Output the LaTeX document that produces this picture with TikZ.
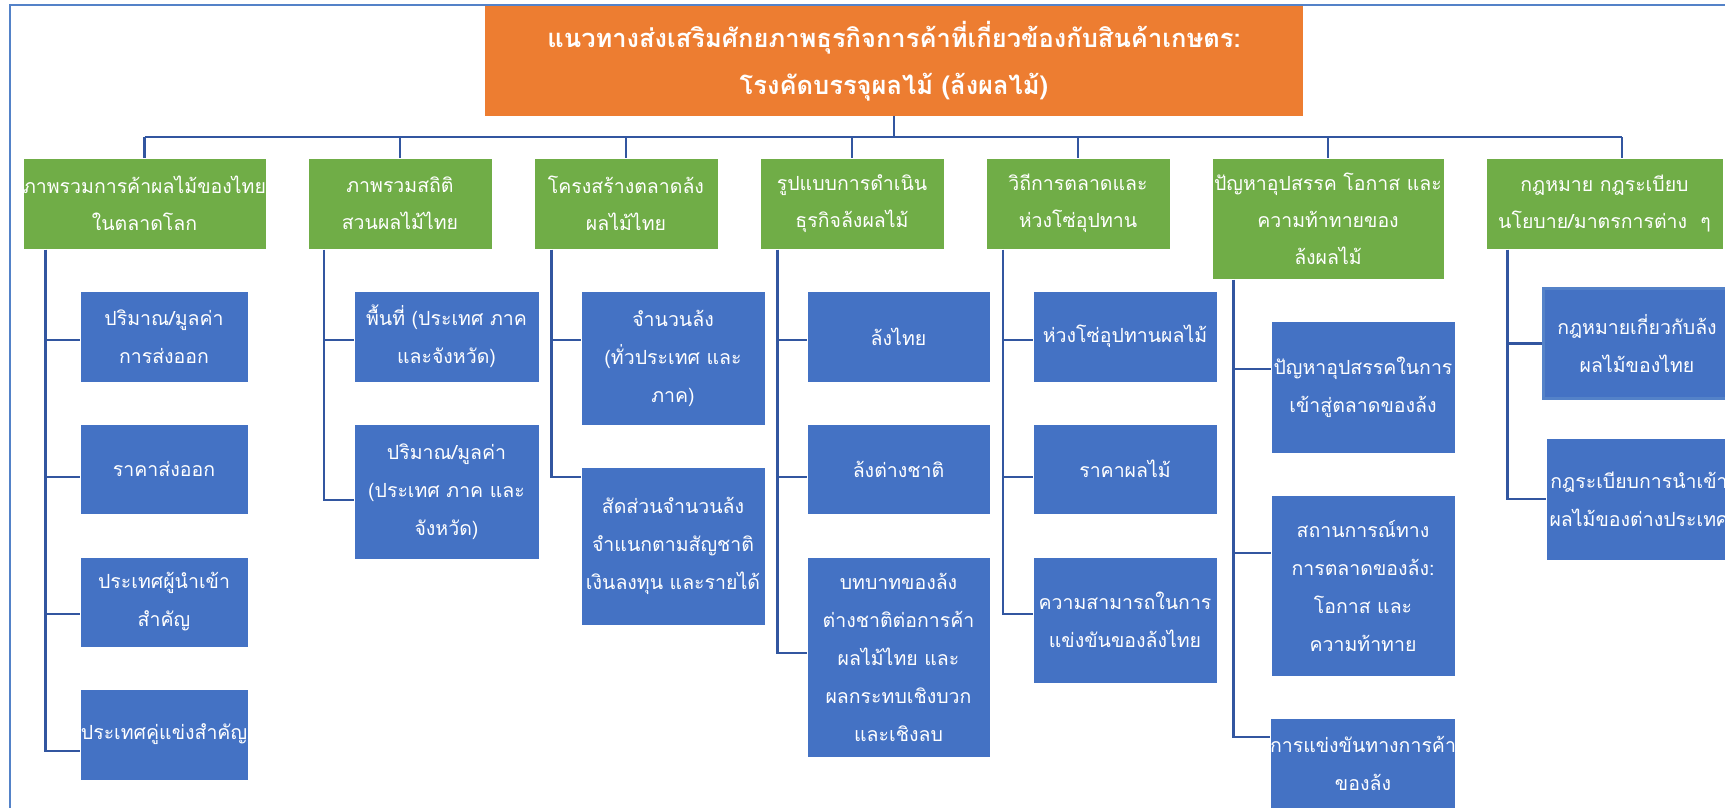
\documentclass[tikz,border=0pt]{standalone}
\usepackage{fontspec}
\newfontfamily\thaifont[Script=Thai]{Loma}
\definecolor{headorange}{RGB}{237,125,49}
\definecolor{catgreen}{RGB}{112,173,71}
\definecolor{itemblue}{RGB}{68,114,196}
\definecolor{linkblue}{RGB}{50,86,160}
\definecolor{frameblue}{RGB}{84,130,200}
\tikzset{
  headbox/.style={fill=headorange,text=white,align=center,inner sep=0pt,font=\thaifont\bfseries\fontsize{25.5}{47}\selectfont},
  catbox/.style={fill=catgreen,draw=white,line width=1pt,text=white,align=center,inner sep=0pt,font=\thaifont\fontsize{19.5}{37}\selectfont},
  itembox/.style={fill=itemblue,draw=white,line width=1pt,text=white,align=center,inner sep=0pt,font=\thaifont\fontsize{19.5}{38}\selectfont},
  link/.style={draw=linkblue,line width=2.7pt}
}
\begin{document}
\begin{tikzpicture}[x=1pt,y=-1pt]
\useasboundingbox (0,0) rectangle (1725,808);
\draw[frameblue,line width=2pt] (9.5,5) rectangle (1780,860);
\node[headbox,minimum width=818,minimum height=110] (head) at (894,61) {แนวทางส่งเสริมศักยภาพธุรกิจการค้าที่เกี่ยวข้องกับสินค้าเกษตร:\\โรงคัดบรรจุผลไม้ (ล้งผลไม้)};
\foreach \n/\x/\w/\y/\h/\txt in {g1/144.5/243/203.5/91/{ภาพรวมการค้าผลไม้ของไทย\\ในตลาดโลก},g2/400/184/203.5/91/{ภาพรวมสถิติ\\สวนผลไม้ไทย},
  g3/626/184/203.5/91/{โครงสร้างตลาดล้ง\\ผลไม้ไทย},g4/852/184/203.5/91/{รูปแบบการดำเนิน\\ธุรกิจล้งผลไม้},g5/1078/184/203.5/91/{วิถีการตลาดและ\\ห่วงโซ่อุปทาน},
  g6/1328/232/218.5/121/{ปัญหาอุปสรรค โอกาส และ\\ความท้าทายของ\\ล้งผลไม้},g7/1604.5/237/203.5/91/{กฎหมาย กฎระเบียบ\\นโยบาย/มาตรการต่าง~ ๆ}}{
  \node[catbox,minimum width=\w,minimum height=\h] (\n) at (\x,\y) {\txt};}
\coordinate (bus) at (894,137); \coordinate (g7top) at ([xshift=17.5pt]g7.north);
\draw[link] (head.south) -- (bus);
\draw[link] (g1.north |- bus) -- (g7top |- bus);
\foreach \d in {g1.north,g2.north,g3.north,g4.north,g5.north,g6.north,g7top} \draw[link] (\d |- bus) -- (\d);
\foreach \t/\g/\dx in {t1/g1/23,t2/g2/16.5,t3/g3/18,t4/g4/18,t5/g5/17.5,t6/g6/22,t7/g7/22} \coordinate (\t) at ([xshift=\dx]\g.south west);
\foreach \n/\t/\x/\w/\y/\h/\dy/\txt in {c1a/t1/164/168/336.5/91/-3.5/{ปริมาณ/มูลค่า\\การส่งออก},c1b/t1/164/168/469/90/-8/{ราคาส่งออก},
  c1c/t1/164/168/602/90/-12/{ประเทศผู้นำเข้า\\สำคัญ},c1d/t1/164/168/734.5/91/-16.5/{ประเทศคู่แข่งสำคัญ},
  c2a/t2/446.5/185/336.5/91/-3.5/{พื้นที่ (ประเทศ ภาค\\และจังหวัด)},c2b/t2/446.5/185/491.5/135/-8.5/{ปริมาณ/มูลค่า\\(ประเทศ ภาค และ\\จังหวัด)},
  c3a/t3/673/184/358/134/18/{จำนวนล้ง\\(ทั่วประเทศ และ\\ภาค)},c3b/t3/673/184/546/158/69/{สัดส่วนจำนวนล้ง\\จำแนกตามสัญชาติ\\เงินลงทุน และรายได้},
  c4a/t4/898.5/183/336.5/91/-3.5/{ล้งไทย},c4b/t4/898.5/183/469/90/-8/{ล้งต่างชาติ},
  c4c/t4/898.5/183/657/200/4/{บทบาทของล้ง\\ต่างชาติต่อการค้า\\ผลไม้ไทย และ\\ผลกระทบเชิงบวก\\และเชิงลบ},
  c5a/t5/1125/184/336.5/91/-3.5/{ห่วงโซ่อุปทานผลไม้},c5b/t5/1125/184/469/90/-8/{ราคาผลไม้},c5c/t5/1125/184/620/126/6/{ความสามารถในการ\\แข่งขันของล้งไทย},
  c6a/t6/1363/184/387/132/18/{ปัญหาอุปสรรคในการ\\เข้าสู่ตลาดของล้ง},c6b/t6/1363/184/585.5/181/32.5/{สถานการณ์ทาง\\การตลาดของล้ง:\\โอกาส และ\\ความท้าทาย},
  c6c/t6/1363/184/763/90/26/{การแข่งขันทางการค้า\\ของล้ง},
  c7a/t7/1637/186/343.5/109/0/{กฎหมายเกี่ยวกับล้ง\\ผลไม้ของไทย},c7b/t7/1639/186/499/122/0/{กฎระเบียบการนำเข้า\\ผลไม้ของต่างประเทศ}}{
  \node[itembox,minimum width=\w,minimum height=\h] (\n) at (\x,\y) {\txt};
  \coordinate (\n-b) at ([yshift=\dy]\n.west);
  \draw[link] (\t |- \n-b) -- (\n-b);}
\foreach \t/\n in {t1/c1d,t2/c2b,t3/c3b,t4/c4c,t5/c5c,t6/c6c,t7/c7b} \draw[link] (\t) |- (\n-b);
\draw[frameblue,line width=2.5pt] (c7a.south west) rectangle (c7a.north east);
\end{tikzpicture}
\end{document}
